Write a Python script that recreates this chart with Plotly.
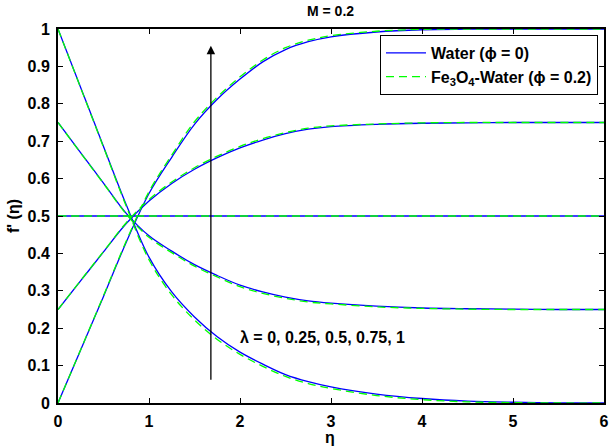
import plotly.graph_objects as go

# similarity variable
eta = [0, 0.25, 0.5, 0.75, 1.0, 1.25, 1.5, 1.75, 2.0, 2.25, 2.5, 2.75, 3.0, 3.5, 4.0, 4.5, 5.0, 5.5, 6.0]

# f'(eta) for pure water (phi = 0), one list per lambda
water_l0 = [1.0, 0.843, 0.686, 0.53, 0.39, 0.297, 0.23, 0.177, 0.136, 0.104, 0.076, 0.057, 0.043, 0.024, 0.012, 0.005, 0.002, 0.0005, 0.0]
water_l025 = [0.75, 0.669, 0.588, 0.507, 0.447, 0.406, 0.37, 0.341, 0.315, 0.297, 0.283, 0.273, 0.267, 0.259, 0.254, 0.252, 0.251, 0.25, 0.25]
water_l05 = [0.5] * 19
water_l075 = [0.25, 0.327, 0.404, 0.48, 0.54, 0.587, 0.625, 0.656, 0.682, 0.703, 0.72, 0.732, 0.739, 0.745, 0.748, 0.749, 0.75, 0.75, 0.75]
water_l1 = [0.0, 0.1425, 0.285, 0.43, 0.56, 0.657, 0.745, 0.812, 0.866, 0.912, 0.945, 0.966, 0.979, 0.992, 0.998, 0.9995, 1.0, 1.0, 1.0]

# f'(eta) for Fe3O4-water nanofluid (phi = 0.2)
nano_l0 = [1.0, 0.842, 0.684, 0.526, 0.383, 0.289, 0.222, 0.170, 0.130, 0.098, 0.071, 0.052, 0.039, 0.020, 0.009, 0.003, 0.001, 0.0, 0.0]
nano_l025 = [0.75, 0.668, 0.587, 0.505, 0.443, 0.402, 0.366, 0.337, 0.311, 0.293, 0.280, 0.270, 0.265, 0.257, 0.253, 0.251, 0.250, 0.25, 0.25]
nano_l05 = [0.5] * 19
nano_l075 = [0.25, 0.328, 0.405, 0.482, 0.544, 0.591, 0.629, 0.66, 0.686, 0.707, 0.723, 0.735, 0.741, 0.746, 0.749, 0.75, 0.75, 0.75, 0.75]
nano_l1 = [0.0, 0.143, 0.287, 0.433, 0.565, 0.663, 0.752, 0.818, 0.872, 0.917, 0.950, 0.970, 0.982, 0.994, 0.999, 1.0, 1.0, 1.0, 1.0]

water_series = [water_l0, water_l025, water_l05, water_l075, water_l1]
nano_series = [nano_l0, nano_l025, nano_l05, nano_l075, nano_l1]

x_ticks = [0, 1, 2, 3, 4, 5, 6]
y_ticks = [0, 0.1, 0.2, 0.3, 0.4, 0.5, 0.6, 0.7, 0.8, 0.9, 1]
y_ticktext = ["0", "0.1", "0.2", "0.3", "0.4", "0.5", "0.6", "0.7", "0.8", "0.9", "1"]

FONT = "Arial, 'Liberation Sans', Helvetica, sans-serif"

fig = go.Figure()

for i, ys in enumerate(water_series):
    fig.add_trace(go.Scatter(
        x=eta, y=ys, mode="lines",
        line=dict(color="rgb(0,0,255)", width=1.3, shape="spline", smoothing=1.0),
        name="Water (ϕ = 0)", legendgroup="w", showlegend=(i == 0),
    ))

for i, ys in enumerate(nano_series):
    fig.add_trace(go.Scatter(
        x=eta, y=ys, mode="lines",
        line=dict(color="rgb(0,255,0)", width=1.3, dash="8px,5px", shape="spline", smoothing=1.0),
        name="Fe<sub>3</sub>O<sub>4</sub>-Water (ϕ = 0.2)", legendgroup="n", showlegend=(i == 0),
    ))

axis_common = dict(
    showline=True, linecolor="black", linewidth=2, mirror="ticks",
    ticks="inside", ticklen=5, tickwidth=1, tickcolor="black",
    showgrid=False, zeroline=False,
    tickfont=dict(family=FONT, size=16, color="black", weight="bold"),
)

fig.update_xaxes(range=[0, 6], tickvals=x_ticks, ticklabelstandoff=3, **axis_common)
fig.update_yaxes(range=[0, 1], tickvals=y_ticks, ticktext=y_ticktext, ticklabelstandoff=3, **axis_common)

# arrow indicating increasing lambda
fig.add_annotation(
    x=1.68, y=0.955, ax=1.68, ay=0.058, xref="x", yref="y", axref="x", ayref="y",
    showarrow=True, arrowhead=2, arrowsize=1.3, arrowwidth=1.3, arrowcolor="black", text="",
)
fig.add_annotation(
    x=1.98, y=0.175, xref="x", yref="y", xanchor="left", yanchor="middle",
    text="λ = 0, 0.25, 0.5, 0.75, 1", showarrow=False,
    font=dict(family=FONT, size=16, color="black", weight="bold"),
)

# title and axis labels
fig.add_annotation(
    x=0.499, y=1.0, xref="paper", yref="paper", yanchor="bottom", yshift=8,
    text="M = 0.2", showarrow=False,
    font=dict(family=FONT, size=14, color="black", weight="bold"),
)
fig.add_annotation(
    x=0.499, y=0, xref="paper", yref="paper", yanchor="top", yshift=-24,
    text="η", showarrow=False,
    font=dict(family=FONT, size=16, color="black", weight="bold"),
)
fig.add_annotation(
    x=0, y=0.5, xref="paper", yref="paper", xanchor="center", xshift=-45,
    text="f' (η)", textangle=-90, showarrow=False,
    font=dict(family=FONT, size=16, color="black", weight="bold"),
)

fig.update_layout(
    width=613, height=446,
    margin=dict(l=58, r=4, t=29, b=43),
    paper_bgcolor="white", plot_bgcolor="white",
    showlegend=True,
    legend=dict(
        x=0.989, y=0.984, xanchor="right", yanchor="top",
        bgcolor="white", bordercolor="black", borderwidth=1,
        font=dict(family=FONT, size=16, color="black", weight="bold"),
        itemwidth=40, tracegroupgap=0,
    ),
)

fig.write_html("out.html")
